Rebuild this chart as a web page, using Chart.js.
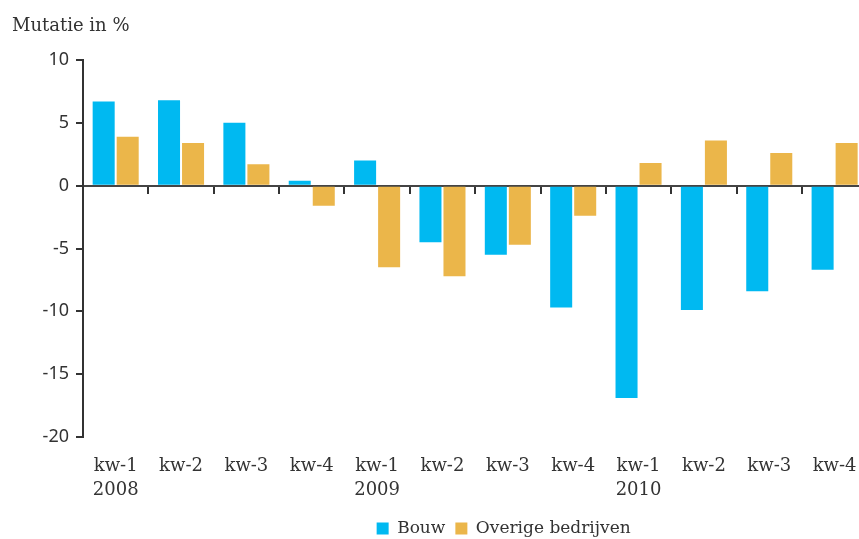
<!DOCTYPE html>
<html>
<head>
<meta charset="utf-8">
<script src="https://cdn.jsdelivr.net/npm/chart.js@4"></script>
<style>
  html, body { margin: 0; padding: 0; background: #fff; overflow: hidden; }
  #wrap { position: relative; width: 880px; height: 547px; }
</style>
</head>
<body>
<div id="wrap"><canvas id="barChart"></canvas></div>
<script>
  // Kwartalen
  var quarters = [
    ['kw-1', '2008'], 'kw-2', 'kw-3', 'kw-4',
    ['kw-1', '2009'], 'kw-2', 'kw-3', 'kw-4',
    ['kw-1', '2010'], 'kw-2', 'kw-3', 'kw-4'
  ]

  // Mutatie in %
  var bouw = [6.7, 6.8, 5.0, 0.4, 2.0, -4.5, -5.5, -9.7, -16.9, -9.9, -8.4, -6.7]
  var overige = [3.9, 3.4, 1.7, -1.6, -6.5, -7.2, -4.7, -2.4, 1.8, 3.6, 2.6, 3.4]

  var yTicks = [-20, -15, -10, -5, 0, 5, 10]

  var textColor = '#333333'
  var axisColor = '#333333'

  // legend sits a bit right of the plot centre in the original
  var legendShift = {
    id: 'legendShift',
    afterLayout: function (chart) {
      chart.legend.left += 64
      chart.legend.right += 64
    }
  }

  var barChartData = {
    labels: quarters,
    datasets: [
      {
        label: 'Bouw',
        backgroundColor: '#00b9f1',
        borderWidth: 0,
        data: bouw
      },
      {
        label: 'Overige bedrijven',
        backgroundColor: '#ebb64a',
        borderWidth: 0,
        data: overige
      }
    ]
  }

  window.onload = function () {
    var barChartCanvas = document.getElementById('barChart').getContext('2d')
    window.myBar = new Chart(barChartCanvas, {
      type: 'bar',
      data: barChartData,
      plugins: [legendShift],
      options: {
        responsive: true,
        maintainAspectRatio: false,
        animation: false,
        categoryPercentage: 0.735,
        barPercentage: 0.917,
        layout: {
          padding: { left: 12, right: 12.7, top: 0, bottom: 0 }
        },
        plugins: {
          title: {
            display: true,
            text: 'Mutatie in %',
            align: 'start',
            color: textColor,
            font: { family: 'DejaVu Serif', size: 18, weight: 'normal' },
            padding: { top: 16, bottom: 22.4 }
          },
          legend: {
            position: 'bottom',
            labels: {
              boxWidth: 12,
              boxHeight: 12,
              padding: 10,
              color: textColor,
              font: { family: 'DejaVu Serif', size: 17 }
            }
          },
          tooltip: { enabled: false }
        },
        scales: {
          x: {
            grid: { display: false, drawTicks: false },
            border: { display: false },
            ticks: {
              color: textColor,
              padding: 17,
              maxRotation: 0,
              autoSkip: false,
              font: { family: 'DejaVu Serif', size: 18, lineHeight: 1.33 }
            },
            afterFit: function (scale) { scale.height = 73 }
          },
          x2: {
            type: 'category',
            axis: 'x',
            position: { y: 0 },
            offset: true,
            z: 1,
            grid: {
              offset: true,
              drawOnChartArea: false,
              tickLength: 7,
              lineWidth: 2,
              color: axisColor
            },
            border: { display: true, width: 2, color: '#444444' },
            ticks: { display: false }
          },
          y: {
            min: -20,
            max: 10,
            afterBuildTicks: function (scale) {
              scale.ticks = yTicks.map(function (v) { return { value: v } })
            },
            grid: {
              drawOnChartArea: false,
              tickLength: 7,
              lineWidth: 2,
              color: axisColor
            },
            border: { display: true, width: 2, color: axisColor },
            ticks: {
              color: textColor,
              padding: 7,
              font: { family: 'Noto Sans', size: 18 }
            },
            afterFit: function (scale) { scale.width = 71 }
          }
        }
      }
    })
  }
</script>
</body>
</html>
